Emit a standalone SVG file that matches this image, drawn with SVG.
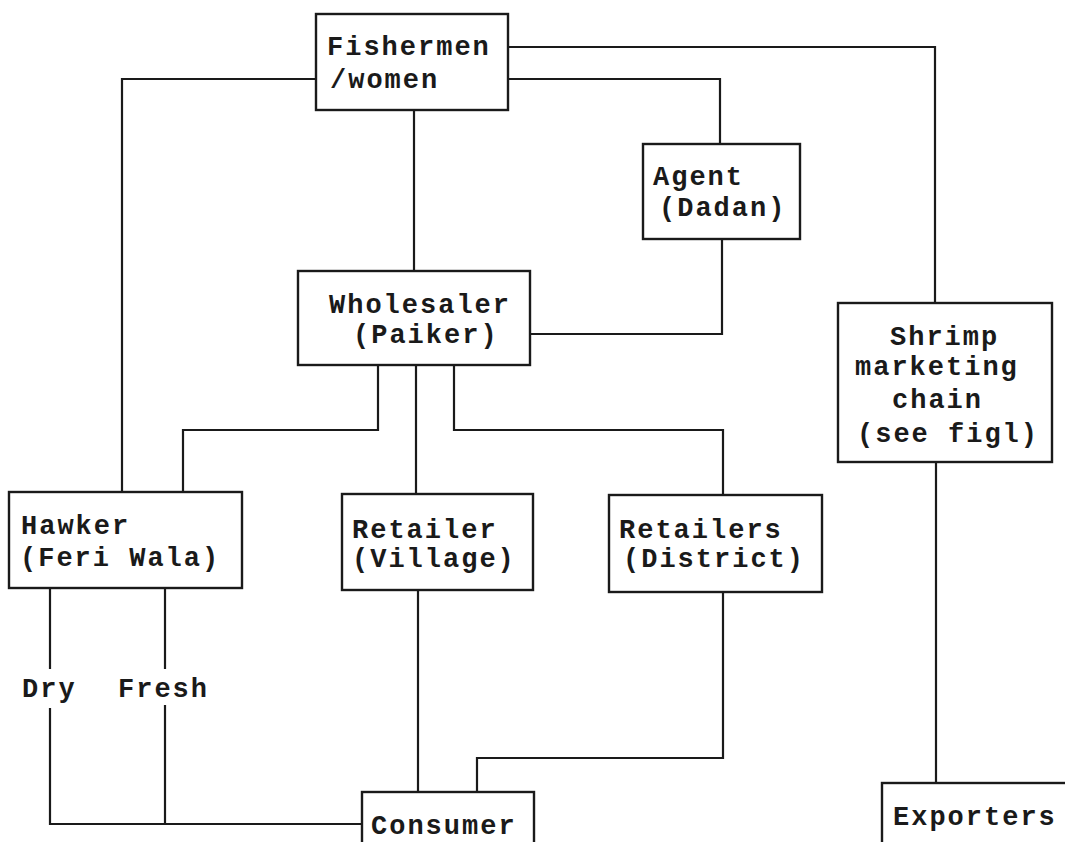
<svg xmlns="http://www.w3.org/2000/svg" width="1065" height="842" viewBox="0 0 1065 842">
<style>
.box{fill:#fff;stroke:#1a1a1a;stroke-width:2.4}
.ln{fill:none;stroke:#1a1a1a;stroke-width:2.2}
text{font-family:"Liberation Mono","Courier New",monospace;font-size:27px;font-weight:bold;fill:#1a1a1a;letter-spacing:2px}
</style>
<rect width="1065" height="842" fill="#fff"/>
<g id="connectors">
<polyline class="ln" points="508,47 935,47 935,303"/>
<polyline class="ln" points="508,79 720,79 720,144"/>
<polyline class="ln" points="316,79 122,79 122,492"/>
<polyline class="ln" points="414,110 414,271"/>
<polyline class="ln" points="722,239 722,334 530,334"/>
<polyline class="ln" points="378,365 378,430 183,430 183,492"/>
<polyline class="ln" points="416,365 416,494"/>
<polyline class="ln" points="454,365 454,430 723,430 723,495"/>
<polyline class="ln" points="936,462 936,783"/>
<polyline class="ln" points="418,590 418,792"/>
<polyline class="ln" points="723,592 723,758 477,758 477,792"/>
<polyline class="ln" points="50,588 50,669"/>
<polyline class="ln" points="50,708 50,824 362,824"/>
<polyline class="ln" points="165,588 165,669"/>
<polyline class="ln" points="165,705 165,824"/>
</g>
<g id="fishermen">
<rect class="box" x="316" y="14" width="192" height="96"/>
<text x="327" y="55">Fishermen</text>
<text x="330" y="88">/women</text>
</g>
<g id="agent">
<rect class="box" x="643" y="144" width="157" height="95"/>
<text x="653" y="185">Agent</text>
<text x="659" y="216">(Dadan)</text>
</g>
<g id="wholesaler">
<rect class="box" x="298" y="271" width="232" height="94"/>
<text x="329" y="313">Wholesaler</text>
<text x="353" y="343">(Paiker)</text>
</g>
<g id="shrimp">
<rect class="box" x="838" y="303" width="214" height="159"/>
<text x="890" y="345">Shrimp</text>
<text x="855" y="375">marketing</text>
<text x="892" y="408">chain</text>
<text x="857" y="442">(see figl)</text>
</g>
<g id="hawker">
<rect class="box" x="9" y="492" width="233" height="96"/>
<text x="21" y="534">Hawker</text>
<text x="20" y="566">(Feri Wala)</text>
</g>
<g id="retailer-village">
<rect class="box" x="342" y="494" width="191" height="96"/>
<text x="352" y="538">Retailer</text>
<text x="352" y="567">(Village)</text>
</g>
<g id="retailers-district">
<rect class="box" x="609" y="495" width="213" height="97"/>
<text x="619" y="538">Retailers</text>
<text x="623" y="567">(District)</text>
</g>
<g id="labels">
<text x="22" y="697">Dry</text>
<text x="118" y="697">Fresh</text>
</g>
<g id="consumer">
<rect class="box" x="362" y="792" width="172" height="70"/>
<text x="371" y="834">Consumer</text>
</g>
<g id="exporters">
<rect class="box" x="882" y="783" width="200" height="80"/>
<text x="893" y="825">Exporters</text>
</g>
</svg>
